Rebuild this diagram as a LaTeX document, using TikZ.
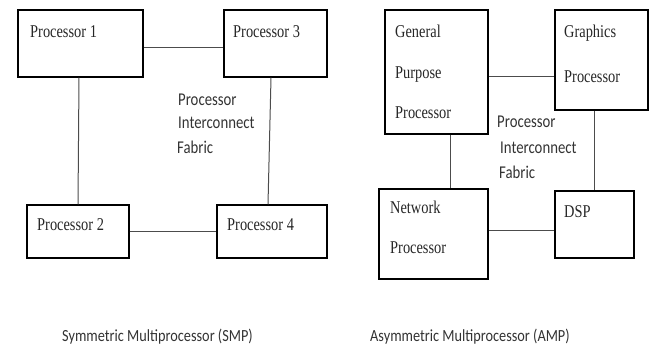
\documentclass[tikz,border=0pt]{standalone}
\usepackage{fontspec}
\newfontfamily\boxfont[FakeStretch=0.8]{Liberation Serif}
\newfontfamily\calfont[FakeStretch=0.82]{Carlito}
\newfontfamily\capfont[FakeStretch=0.84]{Carlito}
\begin{document}
\begin{tikzpicture}[x=1pt,y=1pt,
  pbox/.style={draw=black,line width=1.2pt,inner sep=0pt,fill=none},
  ptext/.style={anchor=base west,inner sep=0pt,text=black!85,font=\boxfont\fontsize{18}{20}\selectfont},
  ftext/.style={anchor=base west,inner sep=0pt,text=black!80,font=\calfont\fontsize{18}{20}\selectfont},
  ctext/.style={anchor=base west,inner sep=0pt,text=black!80,font=\capfont\fontsize{17}{20}\selectfont},
  link/.style={draw=black!70,line width=1pt}]
\useasboundingbox (0,0) rectangle (651,352);
% SMP boxes
\node[pbox,minimum width=125pt,minimum height=67pt] (p1) at (80.5,308.5) {};
\node[pbox,minimum width=103pt,minimum height=67pt] (p3) at (275.5,308.5) {};
\node[pbox,minimum width=102pt,minimum height=53pt] (p2) at (78,120.5) {};
\node[pbox,minimum width=110pt,minimum height=53pt] (p4) at (272,120.5) {};
\node[ptext] (t1) at (30,314) {Processor 1};
\node[ptext] (t3) at (233,314) {Processor 3};
\node[ptext] (t2) at (37,121) {Processor 2};
\node[ptext] (t4) at (227,121) {Processor 4};
\draw[link] ([yshift=-4.5pt]p1.east) -- ([yshift=-4.5pt]p3.west);
\draw[link] ([xshift=-1.5pt]p1.south) -- (p2.north);
\draw[link] ([xshift=-4.5pt]p3.south) -- ([xshift=-4pt]p4.north);
\draw[link] (p2.east) -- (p4.west);
\node[ftext] (fa1) at (178,246) {Processor};
\node[ftext] (fa2) at (178,223) {Interconnect};
\node[ftext] (fa3) at (177,198) {Fabric};
% AMP boxes
\node[pbox,minimum width=103pt,minimum height=124pt] (gp) at (436.5,280) {};
\node[pbox,minimum width=93pt,minimum height=100pt] (gr) at (601.5,292) {};
\node[pbox,minimum width=109pt,minimum height=90pt] (nw) at (433.5,118) {};
\node[pbox,minimum width=79pt,minimum height=67pt] (dsp) at (594.5,127.5) {};
\node[ptext] (g1) at (395,314) {General};
\node[ptext] (g2) at (395,273) {Purpose};
\node[ptext] (g3) at (395,233) {Processor};
\node[ptext] (r1) at (564,314) {Graphics};
\node[ptext] (r2) at (564,269) {Processor};
\node[ptext] (n1) at (390,138) {Network};
\node[ptext] (n2) at (390,98) {Processor};
\node[ptext] (d1) at (564,134) {DSP};
\draw[link] ([yshift=-5pt]gp.east) -- ([yshift=-17pt]gr.west);
\draw[link] ([xshift=13.5pt]gp.south) -- ([xshift=16.5pt]nw.north);
\draw[link] ([xshift=-7.5pt]gr.south) -- ([xshift=-0.5pt]dsp.north);
\draw[link] ([yshift=3pt]nw.east) -- ([yshift=-6.5pt]dsp.west);
\node[ftext] (fb1) at (497,224) {Processor};
\node[ftext] (fb2) at (500,198) {Interconnect};
\node[ftext] (fb3) at (499,173) {Fabric};
% captions
\node[ctext] (c1) at (62,10) {Symmetric Multiprocessor (SMP)};
\node[ctext] (c2) at (370,10) {Asymmetric Multiprocessor (AMP)};
\end{tikzpicture}
\end{document}
